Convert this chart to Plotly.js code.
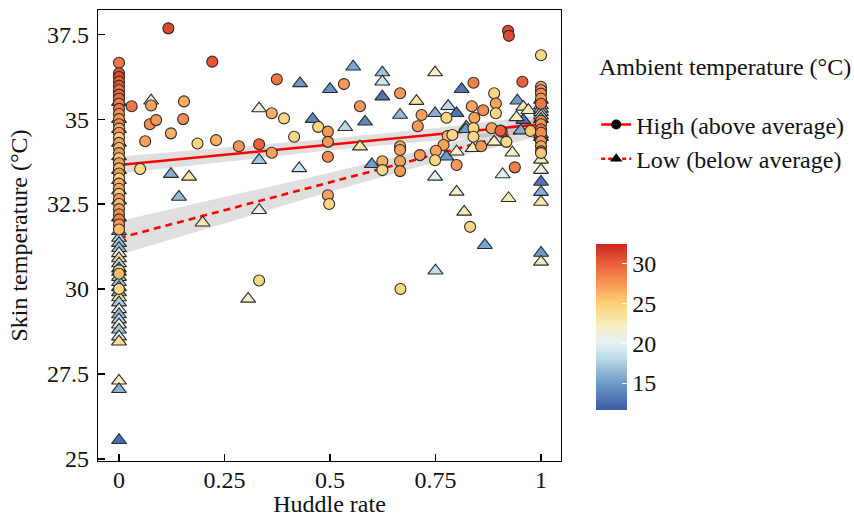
<!DOCTYPE html>
<html>
<head>
<meta charset="utf-8">
<script src="https://cdn.plot.ly/plotly-3.0.1.min.js"></script>
<style>html,body{margin:0;padding:0;background:#fff;} #chart{width:854px;height:517px;}</style>
</head>
<body>
<div id="chart"></div>
<script>
// ---- High ambient temperature (circles): huddle rate, skin temperature, ambient temperature
const hiX = [0.117,0.221,0.030,0.076,0.154,0.073,0.088,0.152,0.062,0.123,0.186,0.230,0.284,0.332,0.362,0.374,0.362,0.391,0.472,0.415,
  0.495,0.495,0.495,0.050,0.495,0.498,0.832,0.332,0.667,0.922,0.924,0.533,0.666,0.571,0.840,0.889,0.893,0.717,0.708,0.624,
  0.624,0.666,0.666,0.666,0.666,0.713,0.836,0.863,0.776,0.842,0.840,0.840,0.779,0.790,0.769,0.751,0.749,0.800,0.858,0.883,
  0.907,0.918,0.956,0.975,0.893,0.904,0.938,
  1,1,1,1,1,1,1,1,1,1,1,1,1,1,
  0,0,0,0,0,0,0,0,0,0,0,0,0,0,0,0,0,0,0,0,0,0,0,0,0,0,0,0,0,0,0,0,0,0,0,0,0];
const hiY = [37.67,36.69,35.38,35.40,35.52,34.85,34.97,35.00,34.35,34.58,34.28,34.38,34.20,34.26,34.01,36.17,35.17,35.02,34.77,34.48,
  34.63,34.33,33.89,33.53,32.76,32.50,31.83,30.25,30.00,37.60,37.45,36.03,35.76,35.38,36.07,35.76,35.46,35.12,34.79,33.76,
  33.50,34.20,34.09,33.76,33.47,33.94,35.38,35.26,35.04,35.04,34.73,34.48,34.50,34.53,34.24,34.07,33.79,33.65,34.20,34.73,
  34.63,34.33,36.10,34.65,35.17,34.66,33.58,
  36.88,35.95,35.85,35.75,35.60,35.45,34.95,34.85,34.70,34.60,34.35,34.20,34.05,34.00,
  36.66,36.35,36.24,36.10,35.98,35.85,35.72,35.60,35.45,35.30,35.15,35.00,34.85,34.72,34.60,34.45,34.30,34.15,34.00,33.85,
  33.70,33.55,33.40,33.25,33.10,32.95,32.80,32.65,32.50,32.35,32.20,32.05,31.90,31.75,30.55,30.45,30.00];
const hiT = [31,30.5,29,27,26.5,28,27.5,28,27,26.5,24.5,26.5,27.5,30,27,29,26.5,24.5,24.5,24.5,
  27.5,27.5,28,24.5,27,24.5,24.5,24.5,24.5,31,31,27.5,27.5,27.5,28.5,24.5,27,27,27.5,26.5,
  24.5,27,27,27,27.5,27.5,27,28,24.5,27,24.5,24.5,26,24.5,27,27,24.5,27.5,27.5,27,
  28.5,24.5,30,25.5,24.5,30,28.5,
  24.5,27.5,27,28,27.5,29,28.5,27.5,29.5,28,27.5,27,27.5,25.5,
  29,30.5,31,30,30.5,29,30,29.5,28.5,29,28,27.5,28,26.5,27.5,25,27,26,27.5,25.5,
  27,26,27.5,25,26.5,27,25.5,27.5,26,27,28,28.5,27.5,26,25,26,24.5];

// ---- Low ambient temperature (triangles)
const loX = [0.076,0.429,0.500,0.332,0.459,0.123,0.166,0.142,0.332,0.427,0.332,0.198,0.818,0.867,0.750,0.306,0.555,0.624,0.624,0.749,
  0.624,0.705,0.812,0.666,0.583,0.536,0.571,0.599,0.749,0.780,0.800,0.823,0.776,0.800,0.838,0.889,0.749,0.800,0.909,0.923,
  0.944,0.958,0.970,0.958,0.942,0.952,0.822,0.932,
  1,1,1,1,1,1,1,1,1,1,1,1,1,1,1,
  0,0,0,0,0,0,0,0,0,0,0,0,0,0,0,0,0,0,0,0,0,0,0,0,0,0,0,0,0,0,0,0,0,0,0];
const loY = [35.54,36.05,35.88,35.31,35.00,33.38,33.30,32.71,33.79,33.55,32.32,31.95,32.27,31.29,30.54,29.71,36.54,36.37,36.10,36.37,
  35.66,35.53,35.88,35.12,34.92,34.76,34.19,33.67,35.17,35.38,35.17,34.77,33.89,34.04,34.14,34.33,33.30,32.86,33.37,32.67,
  35.54,35.36,35.26,34.97,35.05,34.66,34.70,34.01,
  35.56,35.40,35.30,35.20,35.10,35.00,34.47,34.55,33.80,33.50,33.15,32.85,32.56,31.06,30.80,
  35.50,35.00,34.70,34.30,33.90,33.50,33.20,32.90,32.60,32.10,31.70,31.50,31.35,31.20,31.05,30.90,30.75,30.60,30.50,30.35,
  30.20,30.05,29.90,29.75,29.60,29.40,29.25,29.10,28.95,28.80,28.60,28.45,27.30,27.05,25.55];
const loT = [19.5,15,14.5,21,14,16,23,16.5,17,19,20.5,23,22.5,15.5,18.5,22,15.5,17,19,22,
  13,23,13,16.5,14,18,23,15,16,18,13,17.5,15,22,22,22,20,22,20,22.5,
  15,23,22,13,22,16,15,22,
  14,18,17.5,19,18,17,14,13,22,21,13,16,23,15,22.5,
  24,22,24.5,23,24.5,22,24,21,23,16,15.5,18,17,16.5,21,24.5,18,15,16.5,19,
  17,22.5,16,24,17.5,21,16.5,18,22,17,19.5,24,22,16,12.5];

// ---- Fitted regression lines with confidence bands
const fitX = [0, 0.25, 0.5, 0.75, 1];
const hiFit = [33.65, 33.95, 34.25, 34.55, 34.85];
const hiLo  = [33.40, 33.75, 34.08, 34.37, 34.58];
const hiHi  = [33.90, 34.15, 34.42, 34.73, 35.12];
const loFit = [31.50, 32.32, 33.14, 33.96, 34.78];
const loLo  = [31.00, 31.94, 32.86, 33.74, 34.50];
const loHi  = [32.00, 32.70, 33.42, 34.18, 35.06];

const xTicks = [0, 0.25, 0.5, 0.75, 1];
const xTickText = ['0', '0.25', '0.5', '0.75', '1'];
const yTicks = [25, 27.5, 30, 32.5, 35, 37.5];
const yTickText = ['25', '27.5', '30', '32.5', '35', '37.5'];
const cbTicks = [15, 20, 25, 30];
const legendNames = ['High (above average)', 'Low (below average)'];

const FONT = 'Liberation Serif, Times New Roman, serif';
const FS = 24;
const bandFill = 'rgba(150,150,150,0.3)';

function band(lo, hi) {
  return {
    x: fitX.concat(fitX.slice().reverse()),
    y: lo.concat(hi.slice().reverse()),
    type: 'scatter', mode: 'lines', fill: 'toself', fillcolor: bandFill,
    line: {width: 0}, hoverinfo: 'skip', showlegend: false
  };
}

const cmin = 11.6, cmax = 32.5;
function stop(v) { return (v - cmin) / (cmax - cmin); }
const colorscale = [
  [0, '#3a5ca4'], [stop(15), '#6e9bc8'], [stop(18), '#b8d8e8'], [stop(20), '#e2f1f3'],
  [stop(22), '#f6efc6'], [stop(25), '#fdd276'], [stop(28), '#f68c50'], [stop(30), '#e9603a'], [1, '#cc2622']
];

const traces = [
  band(hiLo, hiHi),
  band(loLo, loHi),
  {x: fitX, y: hiFit, type: 'scatter', mode: 'lines', line: {color: '#ff0000', width: 2.6}, showlegend: false},
  {x: fitX, y: loFit, type: 'scatter', mode: 'lines', line: {color: '#ff0000', width: 2.6, dash: '7px,5px'}, showlegend: false},
  {x: loX, y: loY, type: 'scatter', mode: 'markers', showlegend: false,
   marker: {symbol: 'triangle-up', size: 13, color: loT, coloraxis: 'coloraxis', line: {color: '#2a2a2a', width: 1.1}}},
  {x: hiX, y: hiY, type: 'scatter', mode: 'markers', showlegend: false,
   marker: {symbol: 'circle', size: 11, color: hiT, coloraxis: 'coloraxis', line: {color: '#2a2a2a', width: 1.1}}},
  // legend keys
  {x: [-10], y: [0], type: 'scatter', mode: 'lines+markers', name: legendNames[0], legendgroup: 'a',
   line: {color: '#ff0000', width: 2.6}, marker: {symbol: 'circle', size: 10, color: '#000'}},
  {x: [-10], y: [0], type: 'scatter', mode: 'lines+markers', name: legendNames[1], legendgroup: 'b',
   line: {color: '#ff0000', width: 2.6, dash: '4px,3px'}, marker: {symbol: 'triangle-up', size: 11, color: '#000'}}
];

const layout = {
  width: 854, height: 517,
  margin: {l: 98, r: 293, t: 10, b: 56, autoexpand: false},
  paper_bgcolor: '#fff', plot_bgcolor: '#fff',
  font: {family: FONT, size: FS, color: '#111'},
  xaxis: {
    range: [-0.0498, 1.0474], tickvals: xTicks, ticktext: xTickText,
    ticks: 'inside', ticklen: 7, tickwidth: 1.2, tickcolor: '#000',
    showgrid: false, zeroline: false, showline: true, mirror: true, linecolor: '#000', linewidth: 1.2,
    tickfont: {family: FONT, size: FS, color: '#111'}, ticklabelstandoff: -3,
    title: {text: 'Huddle rate', font: {family: FONT, size: FS, color: '#111'}, standoff: 6},
    automargin: false
  },
  yaxis: {
    range: [24.94, 38.21], tickvals: yTicks, ticktext: yTickText,
    ticks: 'inside', ticklen: 7, tickwidth: 1.2, tickcolor: '#000',
    showgrid: false, zeroline: false, showline: true, mirror: true, linecolor: '#000', linewidth: 1.2,
    tickfont: {family: FONT, size: FS, color: '#111'}, ticklabelstandoff: 3,
    title: {text: 'Skin temperature (°C)', font: {family: FONT, size: FS, color: '#111'}, standoff: 12},
    automargin: false
  },
  coloraxis: {
    cmin: cmin, cmax: cmax,
    colorscale: colorscale,
    colorbar: {
      x: 1.0756, xanchor: 'left', xpad: 0, y: 0.297, yanchor: 'middle', ypad: 0,
      thickness: 31, thicknessmode: 'pixels', len: 166, lenmode: 'pixels',
      outlinewidth: 0, tickvals: cbTicks, ticks: 'inside', ticklen: 5, tickcolor: '#fff', tickwidth: 1,
      tickfont: {family: FONT, size: FS, color: '#111'}
    }
  },
  legend: {
    x: 1.076, xanchor: 'left', y: 0.795, yanchor: 'top',
    font: {family: FONT, size: FS, color: '#111'}, bgcolor: 'rgba(0,0,0,0)',
    itemwidth: 30, tracegroupgap: 0
  },
  annotations: [{
    xref: 'paper', yref: 'paper', x: 1.078, y: 0.874, xanchor: 'left', yanchor: 'middle',
    text: 'Ambient temperature (°C)', showarrow: false, font: {family: FONT, size: FS, color: '#111'}
  }],
  showlegend: true
};

Plotly.newPlot('chart', traces, layout, {staticPlot: true, displayModeBar: false});
</script>
</body>
</html>
